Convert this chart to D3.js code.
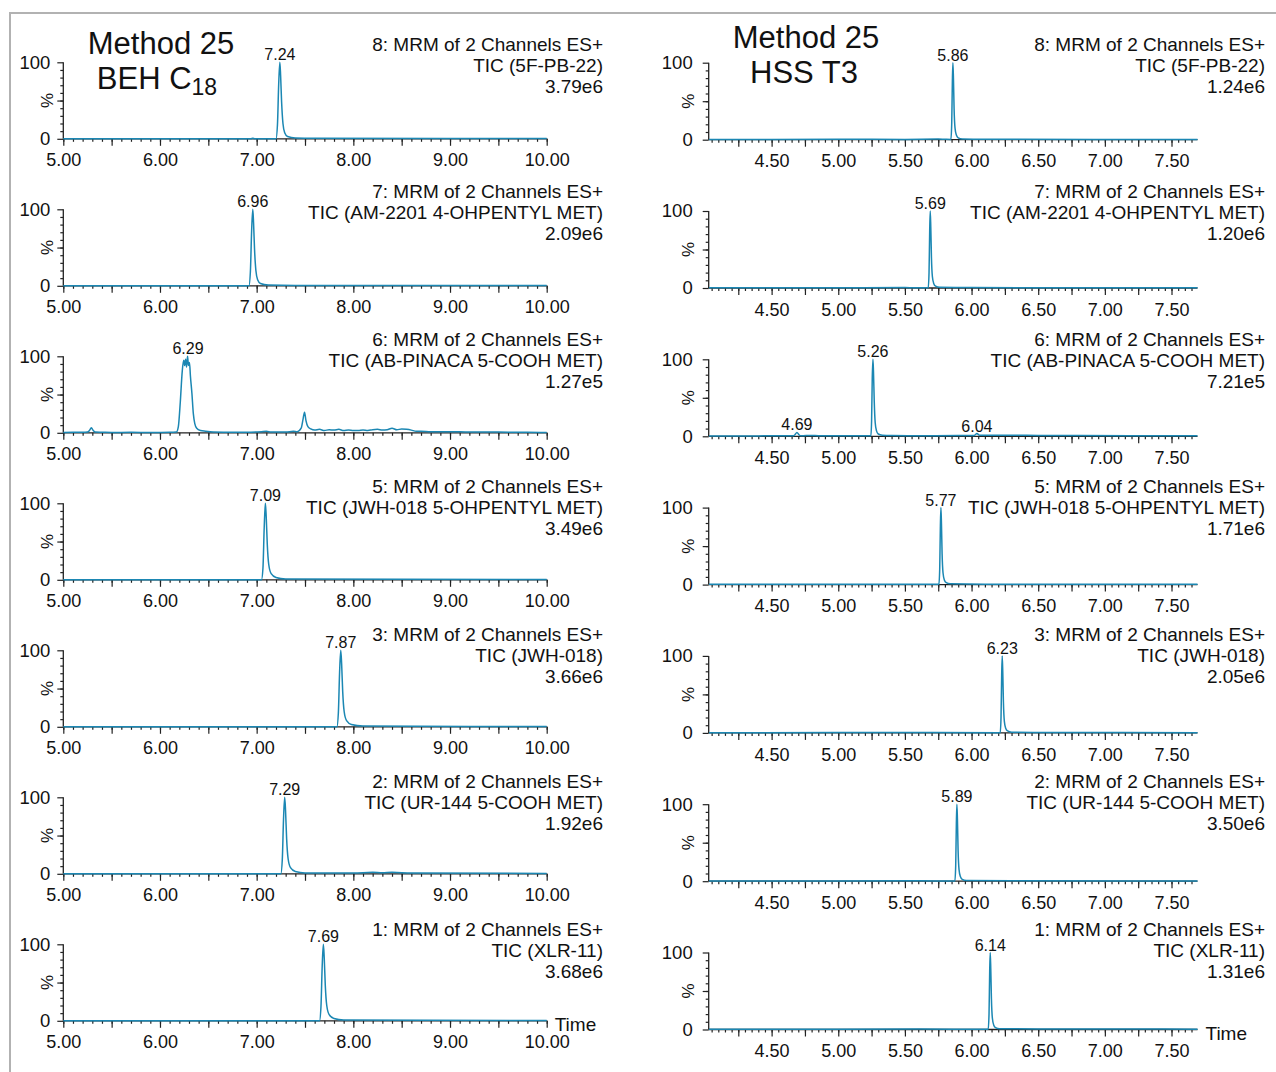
<!DOCTYPE html>
<html>
<head>
<meta charset="utf-8">
<script src="https://cdn.jsdelivr.net/npm/d3@7"></script>
<style>
  body { margin: 0; background: #fff; }
  svg { font-family: "Liberation Sans", Arial, sans-serif; }
</style>
</head>
<body>
<svg id="chart" width="1276" height="1072"></svg>
<script>
// channel / compound info, same order top to bottom in both columns
var channels = ["8", "7", "6", "5", "3", "2", "1"];
var compounds = ["5F-PB-22", "AM-2201 4-OHPENTYL MET", "AB-PINACA 5-COOH MET",
  "JWH-018 5-OHPENTYL MET", "JWH-018", "UR-144 5-COOH MET", "XLR-11"];

// BEH C18 column
var behIntensity = ["3.79e6", "2.09e6", "1.27e5", "3.49e6", "3.66e6", "1.92e6", "3.68e6"];
var behPeakLabels = [["7.24"], ["6.96"], ["6.29"], ["7.09"], ["7.87"], ["7.29"], ["7.69"]];
var behTickLabels = [5, 6, 7, 8, 9, 10];

// HSS T3 column
var hssIntensity = ["1.24e6", "1.20e6", "7.21e5", "1.71e6", "2.05e6", "3.50e6", "1.31e6"];
var hssPeakLabels = [["5.86"], ["5.69"], ["5.26", "4.69", "6.04"], ["5.77"], ["6.23"], ["5.89"], ["6.14"]];
var hssTickLabels = [4.5, 5, 5.5, 6, 6.5, 7, 7.5];

// traces [time, %]
var behTraces = [
  [[5,0],[6.94,0],[6.96,0.8],[6.98,0],[7.20,0],[7.215,18],[7.228,72],[7.24,100],[7.248,82],[7.258,48],[7.272,20],[7.29,8],[7.32,3],[7.4,1],[7.6,0.6],[10,0.4]],
  [[5,0],[6.92,0],[6.935,18],[6.948,72],[6.96,100],[6.968,82],[6.978,48],[6.992,20],[7.01,8],[7.04,3],[7.12,1],[7.4,0.5],[10,0.3]],
  [[5,0.5],[5.1,0.8],[5.2,0.6],[5.25,1],[5.27,3],[5.29,6.5],[5.31,3],[5.33,1],[5.4,0.8],[5.5,0.5],[5.7,0.6],[5.9,0.5],[6.1,0.6],[6.17,1],
   [6.19,8],[6.21,40],[6.23,80],[6.245,95],[6.255,88],[6.265,96],[6.275,86],[6.285,100],[6.295,88],[6.305,92],[6.315,74],[6.33,52],[6.345,25],
   [6.36,12],[6.38,6],[6.42,3],[6.47,2],[6.55,1],[6.7,0.8],[6.9,0.6],[7.05,1.5],[7.1,2],[7.15,1],[7.3,1],[7.38,2],[7.42,1.5],[7.46,6],[7.48,18],
   [7.495,27],[7.51,16],[7.53,8],[7.56,5],[7.6,3.5],[7.65,4.5],[7.7,3],[7.75,4],[7.8,3.5],[7.85,4.5],[7.9,3],[7.95,3.5],[8.0,3],[8.05,3],
   [8.1,3.5],[8.15,3],[8.2,4],[8.25,4.5],[8.3,3.5],[8.35,4],[8.4,6],[8.45,4],[8.5,5],[8.55,4.5],[8.6,3.5],[8.65,2],[8.7,2],[8.8,1.5],
   [9.0,1.5],[9.2,1],[9.4,1.2],[9.6,0.8],[9.8,0.8],[10,0.5]],
  [[5,0],[7.05,0],[7.065,15],[7.078,68],[7.09,100],[7.099,82],[7.11,46],[7.125,20],[7.15,8],[7.2,3],[7.3,1],[10,0.4]],
  [[5,0],[7.83,0],[7.845,18],[7.858,72],[7.87,100],[7.879,82],[7.89,46],[7.905,20],[7.93,8],[7.98,3],[8.1,1],[10,0.4]],
  [[5,0],[7.25,0],[7.265,18],[7.278,72],[7.29,100],[7.299,82],[7.31,46],[7.325,20],[7.35,8],[7.4,3],[7.5,1.2],[8.0,1],[8.2,2],[8.3,1.5],[8.4,2],[8.6,1],[10,0.5]],
  [[5,0],[7.65,0],[7.665,18],[7.678,72],[7.69,100],[7.699,82],[7.71,46],[7.725,20],[7.75,8],[7.8,3],[7.9,1],[10,0.4]]
];

var hssTraces = [
  [[4.03,0.3],[4.5,0.3],[5.0,0.5],[5.5,0.4],[5.75,0.8],[5.8,0.5],[5.845,0.3],[5.851,20],[5.856,75],[5.86,100],[5.864,80],[5.869,40],[5.876,15],[5.886,6],[5.9,2.5],[5.93,1],[6.1,0.5],[7.695,0.3]],
  [[4.03,0.3],[5.0,0.4],[5.5,0.5],[5.675,0.3],[5.681,20],[5.686,75],[5.69,100],[5.694,80],[5.699,40],[5.706,15],[5.716,6],[5.73,2.5],[5.76,1],[6.0,0.5],[7.695,0.3]],
  [[4.03,0.5],[4.3,0.5],[4.5,0.6],[4.66,0.6],[4.675,2],[4.69,5],[4.705,2],[4.72,0.6],[4.8,1.2],[4.85,0.8],[5.0,0.7],[5.2,0.6],[5.245,0.8],
   [5.25,20],[5.255,75],[5.26,100],[5.264,85],[5.27,45],[5.277,18],[5.287,7],[5.3,3],[5.33,1.5],[5.4,1],[5.6,0.8],[5.9,1],[6.02,1.2],
   [6.04,3.5],[6.06,1.5],[6.1,1.5],[6.3,1.5],[6.5,1.2],[6.8,1],[7.2,0.8],[7.695,0.6]],
  [[4.03,0.3],[5.0,0.4],[5.5,0.5],[5.755,0.3],[5.761,20],[5.766,75],[5.77,100],[5.774,80],[5.779,40],[5.786,15],[5.796,6],[5.81,2.5],[5.84,1],[6.1,0.5],[7.695,0.3]],
  [[4.03,0.3],[5.0,0.4],[5.6,0.5],[6.215,0.3],[6.221,20],[6.226,75],[6.23,100],[6.234,80],[6.239,40],[6.246,15],[6.256,6],[6.27,2.5],[6.3,1],[6.6,0.5],[7.695,0.3]],
  [[4.03,0.3],[5.0,0.4],[5.6,0.5],[5.875,0.3],[5.881,20],[5.886,75],[5.89,100],[5.894,80],[5.899,40],[5.906,15],[5.916,6],[5.93,2.5],[5.96,1],[6.3,0.6],[7.695,0.3]],
  [[4.03,0.3],[5.0,0.4],[5.6,0.6],[6.125,0.3],[6.131,20],[6.136,75],[6.14,100],[6.144,80],[6.149,40],[6.156,15],[6.166,6],[6.18,2.5],[6.21,1],[6.5,0.8],[7.0,0.8],[7.695,0.4]]
];

var svg = d3.select("#chart");
var traceColor = "#1b87b3";
var axisColor = "#222";

// outer frame (only top and left edges are visible)
svg.append("path")
  .attr("d", "M10,1072V13H1276")
  .attr("fill", "none")
  .attr("stroke", "#b2b2b2")
  .attr("stroke-width", 2);

function range(a, b, step) {
  var out = [];
  for (var v = a; v <= b + 1e-9; v += step) out.push(+v.toFixed(3));
  return out;
}

function drawColumn(c) {
  var x = d3.scaleLinear().domain(c.domain).range([c.x0, c.x1]);
  var minor = range(c.minorStart, c.domain[1], c.minorStep);
  var major = range(c.majorStart, c.domain[1], c.majorStep);

  c.traces.forEach(function (trace, i) {
    var top = c.top0 + i * c.step;
    var base = top + c.h;
    var y = d3.scaleLinear().domain([0, 100]).range([base, top]);
    var g = svg.append("g");

    //x ticks: minor, major, labels
    var gx = g.append("g").attr("transform", "translate(0," + base + ")");
    gx.append("g").call(d3.axisBottom(x).tickValues(minor).tickSize(3).tickFormat(""));
    gx.append("g").call(d3.axisBottom(x).tickValues(major).tickSize(7).tickFormat(""));
    gx.append("g").call(d3.axisBottom(x).tickValues(c.tickLabels).tickSize(0).tickPadding(c.xPad)
      .tickFormat(d3.format(".2f")));
    gx.selectAll(".domain").remove();
    gx.selectAll("line").attr("stroke", axisColor).attr("stroke-width", 1.2);
    gx.selectAll("text").attr("font-size", 18).attr("font-family", null).attr("fill", "#111");
    gx.append("line")
      .attr("x1", c.x0).attr("x2", c.x1)
      .attr("stroke", axisColor).attr("stroke-width", 1.3);

    //y ticks
    var gy = g.append("g").attr("transform", "translate(" + c.x0 + ",0)");
    gy.append("g").call(d3.axisLeft(y).tickValues(range(10, 90, 10)).tickSize(3).tickFormat(""));
    gy.append("g").call(d3.axisLeft(y).tickValues([0, 50, 100]).tickSize(6).tickFormat(""));
    gy.append("g").call(d3.axisLeft(y).tickValues([0, 100]).tickSize(0).tickPadding(c.yPad));
    gy.selectAll(".domain").remove();
    gy.selectAll("line").attr("stroke", axisColor).attr("stroke-width", 1.2);
    gy.selectAll("text").attr("font-size", 18.5).attr("font-family", null).attr("fill", "#111");
    gy.append("line")
      .attr("y1", base).attr("y2", top)
      .attr("stroke", axisColor).attr("stroke-width", 1.3);

    g.append("text")
      .attr("transform", "translate(" + (c.x0 - c.pctOff) + "," + (top + c.h / 2) + ") rotate(-90)")
      .attr("text-anchor", "middle")
      .attr("dy", "0.35em")
      .attr("font-size", 17)
      .attr("fill", "#111")
      .text("%");

    //trace
    g.append("path")
      .datum(trace)
      .attr("fill", "none")
      .attr("stroke", traceColor)
      .attr("stroke-width", 1.5)
      .attr("stroke-linejoin", "round")
      .attr("d", d3.line()
        .x(function (d) { return x(d[0]); })
        .y(function (d) { return y(d[1]); })
        .curve(d3.curveMonotoneX));

    //peak labels sit on the trace point at that time
    c.peaks[i].forEach(function (lab) {
      var t = +lab;
      var near = trace.reduce(function (a, b) {
        return Math.abs(b[0] - t) < Math.abs(a[0] - t) ? b : a;
      });
      g.append("text")
        .attr("x", x(t))
        .attr("y", y(near[1]) - 2)
        .attr("text-anchor", "middle")
        .attr("font-size", 16)
        .attr("fill", "#111")
        .text(lab);
    });

    //header, right aligned
    var hy = c.headTop + i * c.headStep;
    var head = [channels[i] + ": MRM of 2 Channels ES+", "TIC (" + compounds[i] + ")", c.intensity[i]];
    g.selectAll(".head")
      .data(head)
      .enter()
      .append("text")
      .attr("x", c.headRight)
      .attr("y", function (d, k) { return hy + k * 21; })
      .attr("text-anchor", "end")
      .attr("font-size", 19)
      .attr("fill", "#111")
      .text(function (d) { return d; });

    if (i === c.traces.length - 1) {
      g.append("text")
        .attr("x", c.x1 + 8)
        .attr("y", base + 10)
        .attr("font-size", 19)
        .attr("fill", "#111")
        .text("Time");
    }
  });
}

drawColumn({
  domain: [5, 10], x0: 63.3, x1: 546.7,
  minorStart: 5, minorStep: 0.1, majorStart: 5, majorStep: 0.5,
  tickLabels: behTickLabels,
  top0: 62.3, step: 147, h: 76.5,
  traces: behTraces, peaks: behPeakLabels, intensity: behIntensity,
  headTop: 50.5, headStep: 147.5, headRight: 603,
  xPad: 14, yPad: 13, pctOff: 16
});

drawColumn({
  domain: [4.028, 7.695], x0: 708.7, x1: 1197.5,
  minorStart: 4.05, minorStep: 0.05, majorStart: 4.25, majorStep: 0.25,
  tickLabels: hssTickLabels,
  top0: 62.7, step: 148.3, h: 77,
  traces: hssTraces, peaks: hssPeakLabels, intensity: hssIntensity,
  headTop: 50.5, headStep: 147.5, headRight: 1265,
  xPad: 15, yPad: 16, pctOff: 21
});

//titles
var t1 = svg.append("g").attr("font-size", 31).attr("fill", "#111").attr("text-anchor", "middle");
t1.append("text").attr("x", 161).attr("y", 54).text("Method 25");
var beh = t1.append("text").attr("x", 157).attr("y", 89);
beh.append("tspan").text("BEH C");
beh.append("tspan").attr("font-size", 23).attr("dy", 6).text("18");
t1.append("text").attr("x", 806).attr("y", 48).text("Method 25");
t1.append("text").attr("x", 804).attr("y", 83).text("HSS T3");
</script>
</body>
</html>
